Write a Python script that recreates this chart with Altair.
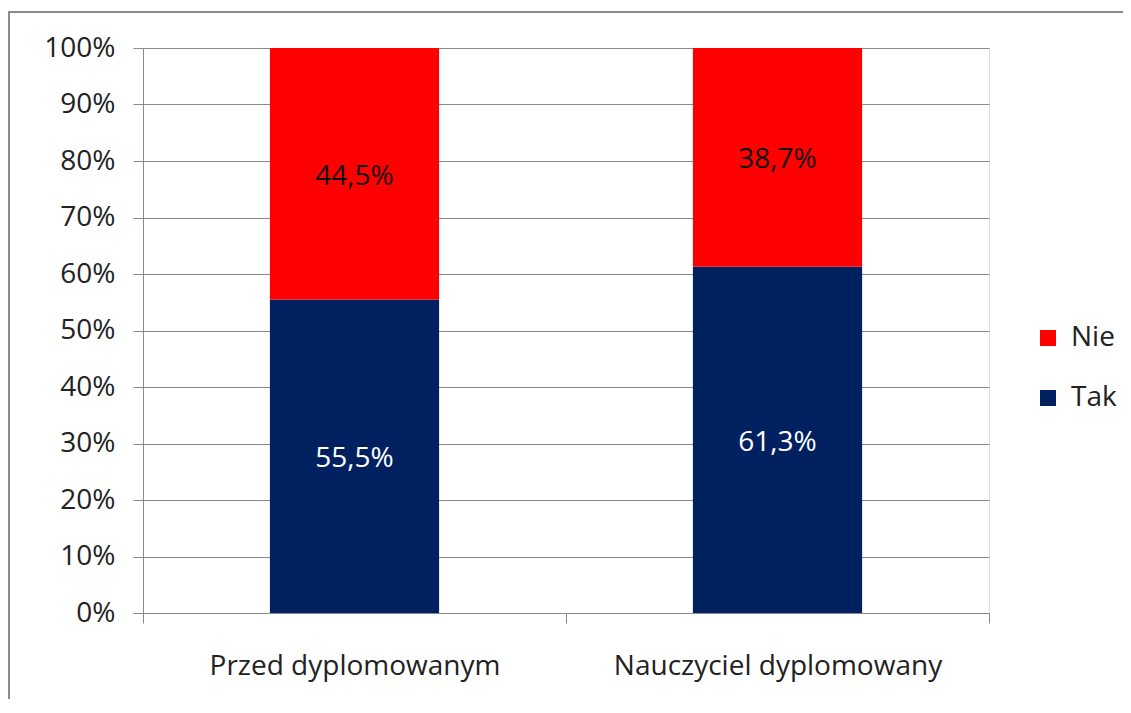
import altair as alt
import pandas as pd

categories = ["Przed dyplomowanym", "Nauczyciel dyplomowany"]
series = ["Tak", "Nie"]
tak_values = [0.555, 0.613]
nie_values = [0.445, 0.387]
y_ticks = [0, 0.1, 0.2, 0.3, 0.4, 0.5, 0.6, 0.7, 0.8, 0.9, 1.0]

rows = []
for i, c in enumerate(categories):
    rows.append({"cat": c, "series": "Tak", "value": tak_values[i], "ord": 0})
    rows.append({"cat": c, "series": "Nie", "value": nie_values[i], "ord": 1})
df = pd.DataFrame(rows)

FONT = "Open Sans"
FS = 28
GREY = "#8a8a8a"

x_enc = alt.X(
    "cat:N",
    sort=categories,
    title=None,
    scale=alt.Scale(paddingInner=0, paddingOuter=0),
    axis=alt.Axis(
        labelAngle=0,
        labelFont=FONT,
        labelFontSize=FS,
        labelColor="#222222",
        labelPadding=29,
        labelLimit=0,
        tickBand="extent",
        tickSize=10,
        tickColor=GREY,
        domainColor=GREY,
        grid=False,
    ),
)

base = alt.Chart(df).transform_window(
    cum="sum(value)", groupby=["cat"], sort=[alt.SortField("ord")], frame=[None, 0]
).transform_calculate(
    mid="datum.cum - datum.value / 2",
    label="replace(format(datum.value, '.1%'), '.', ',')",
)

bars = base.mark_bar(width={"band": 0.4}).encode(
    x=x_enc,
    y=alt.Y(
        "value:Q",
        stack="zero",
        title=None,
        scale=alt.Scale(domain=[0, 1], nice=False),
        axis=alt.Axis(
            values=y_ticks,
            format=".0%",
            labelFont=FONT,
            labelFontSize=FS,
            labelColor="#222222",
            labelPadding=18,
            tickSize=10,
            tickColor=GREY,
            domainColor=GREY,
            gridColor=GREY,
            gridWidth=1,
        ),
    ),
    color=alt.Color(
        "series:N",
        scale=alt.Scale(domain=["Nie", "Tak"], range=["#ff0000", "#002060"]),
        legend=alt.Legend(
            title=None,
            orient="none",
            legendX=891,
            legendY=276,
            symbolType="square",
            symbolSize=256,
            symbolStrokeWidth=0,
            labelFont=FONT,
            labelFontSize=FS,
            labelColor="#222222",
            labelOffset=9,
            labelLimit=0,
            rowPadding=32,
        ),
    ),
    order=alt.Order("ord:Q"),
)

texts = base.mark_text(font=FONT, fontSize=FS, dy=3).encode(
    x=alt.X("cat:N", sort=categories),
    y=alt.Y("mid:Q"),
    text="label:N",
    color=alt.condition(
        "datum.series === 'Tak'", alt.value("#ffffff"), alt.value("#111111")
    ),
)

frame = alt.Chart(alt.Data(values=[{}])).mark_rect(
    fill=None, stroke=GREY, strokeWidth=2
).encode(
    x=alt.value(-134), x2=alt.value(2000), y=alt.value(-36), y2=alt.value(2000)
)

chart = alt.layer(frame, bars, texts).properties(
    width=846,
    height=565,
    autosize=alt.AutoSizeParams(type="none"),
    padding={"left": 135, "top": 40, "right": 134, "bottom": 86},
).configure_view(stroke=None).configure(background="white")

chart.save("out.html", embed_options={"renderer": "svg", "actions": False})
